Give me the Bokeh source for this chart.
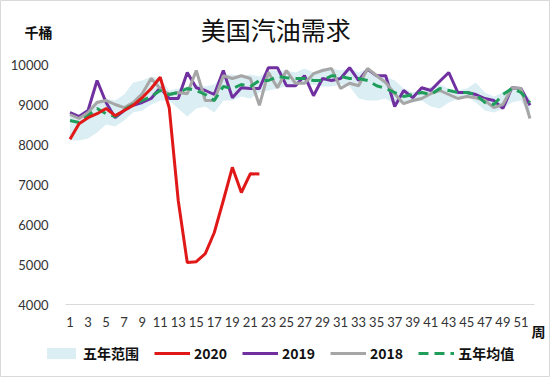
from bokeh.plotting import figure
from bokeh.models import (Range1d, FixedTicker, Legend, LegendItem, Label,
                          ColumnDataSource)
from bokeh.embed import file_html
from bokeh.resources import INLINE

weeks = list(range(1, 53))
weeks_2020 = list(range(1, 23))

v2020 = [8130, 8520, 8670, 8770, 8900, 8720, 8850, 8980, 9170, 9400, 9680, 8920,
         6600, 5050, 5070, 5270, 5800, 6600, 7430, 6800, 7270, 7260]

v2019 = [8800, 8700, 8850, 9600, 9050, 8670, 8850, 8980, 9050, 9150, 9420, 9150,
         9150, 9800, 9420, 9350, 9250, 9850, 9170, 9420, 9400, 9400, 9920, 9920,
         9470, 9470, 9720, 9220, 9650, 9600, 9650, 9920, 9600, 9880, 9720, 9720,
         8950, 9350, 9170, 9420, 9350, 9580, 9800, 9300, 9300, 9250, 9150, 9100,
         8900, 9420, 9400, 8980]

v2018 = [8750, 8650, 8800, 9050, 9100, 9000, 8920, 9050, 9270, 9650, 9400, 9250,
         9300, 9270, 9850, 9100, 9100, 9720, 9650, 9720, 9650, 8980, 9800, 9420,
         9850, 9530, 9530, 9770, 9850, 9900, 9400, 9530, 9470, 9900, 9720, 9550,
         9270, 9020, 9100, 9150, 9270, 9350, 9250, 9150, 9200, 9170, 9100, 8920,
         9000, 9420, 9400, 8650]

avg5 = [8600, 8550, 8720, 8900, 8770, 8700, 8870, 9000, 9100, 9200, 9350, 9250,
        9300, 9400, 9350, 9250, 9100, 9450, 9400, 9500, 9450, 9600, 9600, 9700,
        9670, 9650, 9650, 9600, 9600, 9720, 9700, 9650, 9650, 9600, 9470, 9400,
        9300, 9200, 9250, 9300, 9250, 9400, 9350, 9300, 9300, 9250, 9050, 9000,
        9250, 9400, 9300, 9050]

range_low = [8100, 8100, 8150, 8300, 8500, 8450, 8600, 8800, 8850, 9000, 9100, 9100,
             8900, 8700, 8900, 8950, 8800, 9100, 9100, 9200, 9150, 9300, 9350, 9400,
             9450, 9500, 9500, 9500, 9450, 9450, 9500, 9450, 9150, 9100, 9100, 9150,
             9000, 9050, 9050, 9100, 8950, 8900, 9050, 9150, 9200, 9050, 8850, 8800,
             8900, 9050, 9100, 8700]
range_high = [8850, 8750, 8900, 9100, 9150, 9100, 9250, 9550, 9600, 9700, 9650, 9350,
              9400, 9450, 9500, 9450, 9500, 9750, 9750, 9700, 9750, 9700, 9850, 9850,
              9850, 9800, 9900, 9800, 9900, 9900, 9850, 9900, 9800, 9900, 9750, 9700,
              9600, 9400, 9300, 9350, 9450, 9500, 9400, 9350, 9400, 9550, 9300, 9200,
              9300, 9450, 9400, 9150]

x_ticks = list(range(1, 52, 2))
y_ticks = [4000, 5000, 6000, 7000, 8000, 9000, 10000]

labels = ["五年范围", "2020", "2019", "2018", "五年均值"]
title_text = "美国汽油需求"
y_unit = "千桶"
x_unit = "周"

# The frame covers the whole canvas; axes are pinned inside it so that
# title, unit labels and legend can sit around the data area.
p = figure(width=550, height=377, output_backend="svg", toolbar_location=None,
           x_range=Range1d(-6.707, 54.277), y_range=Range1d(2175, 11600),
           min_border=0, min_border_left=0, min_border_right=0,
           min_border_top=0, min_border_bottom=0,
           background_fill_color="white", border_fill_color="white")
p.outline_line_color = "#D9D9D9"
p.outline_line_width = 1
p.grid.visible = False
p.title.text = ""

src = ColumnDataSource(dict(w=weeks, lo=range_low, hi=range_high,
                            y19=v2019, y18=v2018, avg=avg5))
src20 = ColumnDataSource(dict(w=weeks_2020, y=v2020))

r_band = p.varea(x="w", y1="lo", y2="hi", source=src, fill_color="#DAEEF3", fill_alpha=1.0)
r19 = p.line("w", "y19", source=src, line_color="#7030A0", line_width=3)
r18 = p.line("w", "y18", source=src, line_color="#A6A6A6", line_width=3)
ravg = p.line("w", "avg", source=src, line_color="#1E9E5A", line_width=3, line_dash="10 6")
r20 = p.line("w", "y", source=src20, line_color="#E01818", line_width=3)

p.add_layout(Label(x=23.8, y=10900, text=title_text, text_font="Noto Sans CJK SC",
                   text_font_size="25px", text_align="center", text_baseline="middle",
                   text_color="#111111"))
p.add_layout(Label(x=-2.5, y=10825, text=y_unit, text_font="Noto Sans CJK SC",
                   text_font_size="14px", text_font_style="bold", text_align="center",
                   text_baseline="middle", text_color="#111111"))
p.add_layout(Label(x=52.94, y=3350, text=x_unit, text_font="Noto Sans CJK SC",
                   text_font_size="14px", text_font_style="bold", text_align="center",
                   text_baseline="middle", text_color="#111111"))

p.xaxis.fixed_location = 4000
p.xaxis.bounds = (0.5, 52.5)
p.xaxis.ticker = FixedTicker(ticks=x_ticks)
p.xaxis.axis_line_color = "#D9D9D9"
p.xaxis.major_tick_line_color = None
p.xaxis.minor_tick_line_color = None
p.xaxis.major_label_standoff = 6
p.xaxis.major_label_text_font = "Lato"
p.xaxis.major_label_text_font_size = "13px"
p.xaxis.major_label_text_color = "#333333"

p.yaxis.fixed_location = 0.5
p.yaxis.bounds = (4000, 10000)
p.yaxis.ticker = FixedTicker(ticks=y_ticks)
p.yaxis.axis_line_color = None
p.yaxis.major_tick_line_color = None
p.yaxis.minor_tick_line_color = None
p.yaxis.major_label_standoff = 11
p.yaxis.major_label_text_font = "Lato"
p.yaxis.major_label_text_font_size = "13px"
p.yaxis.major_label_text_color = "#333333"

legend = Legend(items=[LegendItem(label=labels[0], renderers=[r_band]),
                       LegendItem(label=labels[1], renderers=[r20]),
                       LegendItem(label=labels[2], renderers=[r19]),
                       LegendItem(label=labels[3], renderers=[r18]),
                       LegendItem(label=labels[4], renderers=[ravg])],
                orientation="horizontal", location=(43, 14),
                label_text_font="Noto Sans CJK SC", label_text_font_size="14px",
                label_text_font_style="bold", label_text_color="#111111",
                glyph_width=36, glyph_height=14, label_standoff=4, spacing=15,
                padding=2, margin=0, border_line_color=None,
                background_fill_alpha=0)
p.add_layout(legend)

open("out.html", "w").write(file_html(p, INLINE))
